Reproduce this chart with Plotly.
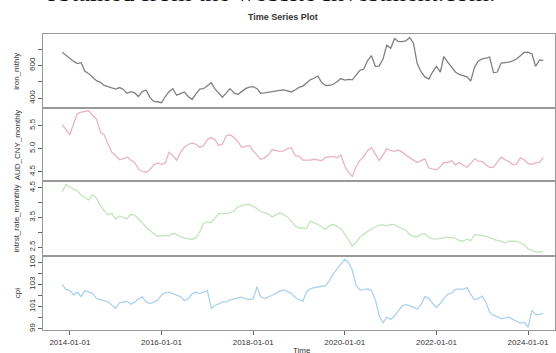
import pandas as pd
import plotly.graph_objects as go
from plotly.subplots import make_subplots

# Monthly observations, Nov 2013 - May 2024
months = pd.date_range("2013-11-01", periods=127, freq="MS")

iron_mthly = [
    681, 662, 641, 625, 612, 617, 565, 550, 528, 507, 497, 478, 470, 462, 456, 465,
    455, 430, 440, 432, 410, 440, 450, 405, 380, 378, 372, 410, 440, 458, 418, 428,
    438, 410, 392, 425, 456, 458, 478, 494, 458, 430, 406, 432, 458, 432, 422, 440,
    458, 468, 470, 458, 430, 432, 436, 444, 446, 448, 450, 445, 438, 450, 466, 474,
    490, 512, 522, 535, 495, 478, 478, 485, 500, 520, 510, 515, 512, 540, 570, 578,
    630, 660, 595, 596, 640, 725, 705, 765, 748, 746, 750, 772, 738, 610, 560, 530,
    517, 560, 595, 560, 655, 620, 588, 560, 545, 538, 530, 505, 590, 628, 640, 645,
    652, 555, 560, 615, 618, 620, 628, 640, 660, 680, 682, 670, 595, 632, 633,
]

aud_cny_monthly = [
    5.52, 5.40, 5.30, 5.55, 5.76, 5.79, 5.80, 5.82, 5.72, 5.64, 5.36, 5.30, 5.10, 4.92, 4.85, 4.76,
    4.78, 4.82, 4.75, 4.70, 4.56, 4.51, 4.49, 4.54, 4.65, 4.69, 4.66, 4.69, 4.92, 4.85, 4.75, 4.92,
    5.03, 5.09, 5.12, 5.10, 5.03, 5.06, 5.20, 5.24, 5.20, 5.07, 5.10, 5.28, 5.30, 5.24, 5.15, 5.03,
    5.05, 5.07, 4.95, 4.86, 4.77, 4.80, 4.86, 4.98, 4.96, 4.94, 4.95, 5.00, 5.02, 4.85, 4.84, 4.75,
    4.75, 4.75, 4.77, 4.76, 4.74, 4.81, 4.82, 4.83, 4.80, 4.86, 4.63, 4.48, 4.40, 4.62, 4.74, 4.83,
    4.96, 5.02, 4.88, 4.74, 4.86, 5.00, 4.96, 4.94, 4.97, 4.93, 4.86, 4.80, 4.74, 4.70, 4.74, 4.78,
    4.58, 4.56, 4.54, 4.61, 4.70, 4.70, 4.74, 4.65, 4.70, 4.64, 4.60, 4.68, 4.78, 4.73, 4.72, 4.65,
    4.59, 4.60, 4.70, 4.82, 4.76, 4.72, 4.65, 4.67, 4.80, 4.76, 4.68, 4.66, 4.69, 4.70, 4.81,
]

intrst_rate_monthly = [
    4.37, 4.61, 4.52, 4.45, 4.40, 4.25, 4.16, 4.09, 4.27, 4.15, 3.90, 3.72, 3.59, 3.64, 3.45, 3.55,
    3.50, 3.46, 3.60, 3.58, 3.45, 3.30, 3.18, 3.06, 2.95, 2.86, 2.88, 2.90, 2.88, 2.96, 2.93, 2.85,
    2.81, 2.79, 2.76, 2.82, 3.02, 3.30, 3.35, 3.33, 3.48, 3.63, 3.64, 3.62, 3.66, 3.72, 3.85, 3.90,
    3.93, 3.94, 3.88, 3.80, 3.70, 3.66, 3.62, 3.52, 3.58, 3.65, 3.60, 3.52, 3.38, 3.22, 3.14, 3.15,
    3.12, 3.38, 3.32, 3.27, 3.18, 3.10, 3.22, 3.27, 3.20, 3.12, 2.94, 2.76, 2.55, 2.65, 2.84, 2.94,
    3.04, 3.12, 3.17, 3.24, 3.25, 3.22, 3.27, 3.26, 3.18, 3.12, 3.08, 2.92, 2.86, 2.86, 2.94, 2.95,
    2.84, 2.78, 2.77, 2.80, 2.82, 2.84, 2.82, 2.80, 2.73, 2.70, 2.77, 2.72, 2.92, 2.92, 2.90, 2.86,
    2.81, 2.75, 2.72, 2.70, 2.64, 2.70, 2.71, 2.70, 2.64, 2.58, 2.44, 2.38, 2.34, 2.33, 2.37,
]

cpi = [
    102.98, 102.55, 102.45, 102.05, 102.30, 101.90, 102.45, 102.35, 102.20, 101.75, 101.62, 101.50,
    101.43, 101.15, 100.85, 101.35, 101.42, 101.48, 101.22, 101.40, 101.70, 101.88, 101.43, 101.28,
    101.40, 101.58, 102.05, 102.25, 102.30, 102.15, 102.05, 101.90, 101.55, 101.70, 102.15, 102.32,
    102.17, 102.35, 102.47, 100.85, 101.10, 101.25, 101.43, 101.43, 101.62, 101.70, 101.80, 101.85,
    101.73, 101.64, 101.72, 102.80, 101.88, 101.73, 101.85, 102.05, 102.25, 102.40, 102.50, 102.35,
    102.20, 101.85, 101.62, 101.50, 102.30, 102.60, 102.72, 102.77, 102.82, 102.90, 103.35, 103.95,
    104.40, 104.80, 105.28, 104.95, 104.30, 102.90, 102.50, 102.53, 102.60, 102.45, 101.60, 100.20,
    99.55, 100.05, 99.85, 100.15, 100.55, 101.05, 101.20, 101.10, 100.95, 100.78, 101.20, 101.90,
    101.75, 101.30, 100.92, 101.30, 101.75, 102.12, 102.22, 102.55, 102.60, 102.55, 102.72, 102.10,
    101.62, 101.75, 101.95, 101.35, 100.50, 100.20, 100.10, 99.90, 99.95, 100.05, 99.85, 99.65,
    99.52, 99.60, 99.14, 100.65, 100.28, 100.30, 100.40,
]

series_names = ["iron_mthly", "AUD_CNY_monthly", "intrst_rate_monthly", "cpi"]
series_values = [iron_mthly, aud_cny_monthly, intrst_rate_monthly, cpi]
series_colors = ["#808080", "#eab3c1", "#c4e4be", "#acd2ee"]

y_ranges = [[341, 795], [4.30, 5.886], [2.20, 4.73], [98.87, 105.56]]
y_tickvals = [
    [400, 500, 600, 700],
    [4.5, 5.0, 5.5],
    [2.5, 3.0, 3.5, 4.0, 4.5],
    [99, 100, 101, 102, 103, 104, 105],
]
y_ticktext = [
    ["400", "", "600", ""],
    ["4.5", "5.0", "5.5"],
    ["2.5", "", "3.5", "", "4.5"],
    ["99", "", "101", "", "103", "", "105"],
]

x_tickvals = pd.date_range("2014-01-01", "2024-01-01", freq="2YS")
x_ticktext = [d.strftime("%Y-%m-%d") for d in x_tickvals]

W, H = 556, 353
# panel edges, pixels from the top of the page
panel_edges = [(32, 107), (107, 181), (181, 257), (257, 332)]
plot_left = 43

# date span covered by the horizontal axis
t0, t1 = pd.Timestamp("2014-01-01"), pd.Timestamp("2024-01-01")
px0, px1 = 70, 529
def px_to_date(px):
    return t0 + (px - px0) / (px1 - px0) * (t1 - t0)
x_range = [px_to_date(plot_left), px_to_date(W)]

fig = make_subplots(rows=4, cols=1, shared_xaxes=True, vertical_spacing=0)

FONT = "Liberation Sans, Arial, sans-serif"
frame = "#999999"

for i, (name, vals, col) in enumerate(zip(series_names, series_values, series_colors)):
    fig.add_trace(
        go.Scatter(x=months, y=vals, mode="lines", name=name,
                   line=dict(color=col, width=1.3), showlegend=False),
        row=i + 1, col=1,
    )
    top, bottom = panel_edges[i]
    fig.update_yaxes(
        row=i + 1, col=1,
        domain=[1 - bottom / H, 1 - top / H],
        range=y_ranges[i],
        tickvals=y_tickvals[i], ticktext=y_ticktext[i],
        tickangle=-90, ticks="outside", ticklen=4, tickcolor="#666",
        tickfont=dict(size=8, color="#333", family=FONT),
        showgrid=False, zeroline=False,
        showline=True, mirror=True, linecolor=frame, linewidth=1.3,
    )
    fig.update_xaxes(
        row=i + 1, col=1,
        domain=[plot_left / W, 1],
        range=x_range,
        showgrid=False, zeroline=False,
        showline=True, mirror=True, linecolor=frame, linewidth=1.3,
        tickvals=x_tickvals, ticktext=x_ticktext,
        ticks="outside" if i == 3 else "", ticklen=4, tickcolor="#666",
        showticklabels=(i == 3),
        tickfont=dict(size=8, color="#333", family=FONT),
    )
    # rotated series label to the left of each panel
    fig.add_annotation(
        text=name, xref="paper", yref="paper",
        x=17 / W, y=1 - (top + bottom) / 2 / H,
        textangle=-90, showarrow=False,
        font=dict(size=8, color="#333", family=FONT),
        xanchor="center", yanchor="middle",
    )

fig.add_annotation(
    text="<b>Time Series Plot</b>", xref="paper", yref="paper",
    x=284 / W, y=1 - 15 / H, showarrow=False,
    font=dict(size=9, color="#333", family=FONT),
    xanchor="center", yanchor="middle",
)
fig.add_annotation(
    text="Time", xref="paper", yref="paper",
    x=303 / W, y=1 - 352 / H, showarrow=False,
    font=dict(size=8, color="#333", family=FONT),
    xanchor="center", yanchor="middle",
)
fig.add_annotation(
    text="obtained from the website Investment.com.", xref="paper", yref="paper",
    x=44 / W, y=1 - 6 / H, showarrow=False,
    font=dict(size=26, color="#111", family="Liberation Serif, Times New Roman, serif"),
    xanchor="left", yanchor="bottom", borderpad=0,
)

fig.update_layout(
    width=W, height=H,
    margin=dict(l=0, r=0, t=0, b=0),
    paper_bgcolor="white", plot_bgcolor="white",
)

fig.write_html("out.html")
